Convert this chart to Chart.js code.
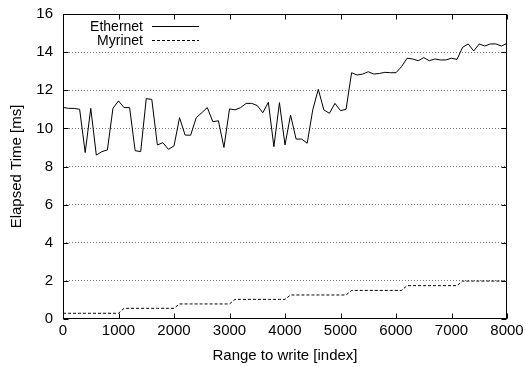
<!DOCTYPE html>
<html>
<head>
<meta charset="utf-8">
<script src="https://cdn.jsdelivr.net/npm/chart.js@4"></script>
<style>
  html, body { margin: 0; padding: 0; background: #fff; }
  canvas { display: block; }
</style>
</head>
<body>
<canvas id="chart" width="526" height="367"></canvas>
<script>
// Datos
const rangeIndex = [
    0, 100, 200, 300, 400, 500, 600, 700, 800, 900,
    1000, 1100, 1200, 1300, 1400, 1500, 1600, 1700, 1800, 1900,
    2000, 2100, 2200, 2300, 2400, 2500, 2600, 2700, 2800, 2900,
    3000, 3100, 3200, 3300, 3400, 3500, 3600, 3700, 3800, 3900,
    4000, 4100, 4200, 4300, 4400, 4500, 4600, 4700, 4800, 4900,
    5000, 5100, 5200, 5300, 5400, 5500, 5600, 5700, 5800, 5900,
    6000, 6100, 6200, 6300, 6400, 6500, 6600, 6700, 6800, 6900,
    7000, 7100, 7200, 7300, 7400, 7500, 7600, 7700, 7800, 7900,
    8000
];

const ethernetTimes = [
    11.10, 11.05, 11.05, 11.00, 8.73, 11.05, 8.60, 8.78, 8.87, 11.05,
    11.44, 11.09, 11.09, 8.83, 8.78, 11.56, 11.52, 9.13, 9.25, 8.90,
    9.08, 10.56, 9.65, 9.64, 10.56, 10.82, 11.09, 10.35, 10.40, 9.00,
    11.02, 10.97, 11.09, 11.31, 11.31, 11.20, 10.82, 11.37, 9.04, 11.35,
    9.13, 10.70, 9.44, 9.44, 9.22, 10.97, 12.05, 10.97, 10.79, 11.31,
    10.93, 11.00, 12.92, 12.80, 12.85, 12.97, 12.85, 12.88, 12.94, 12.92,
    12.92, 13.24, 13.68, 13.64, 13.55, 13.71, 13.55, 13.64, 13.59, 13.59,
    13.68, 13.62, 14.25, 14.43, 14.06, 14.43, 14.32, 14.43, 14.43, 14.32,
    14.46
];

const myrinetTimes = [
    0.30, 0.30, 0.30, 0.30, 0.30, 0.30, 0.30, 0.30, 0.30, 0.30,
    0.30, 0.56, 0.56, 0.56, 0.56, 0.56, 0.56, 0.56, 0.56, 0.56,
    0.56, 0.79, 0.79, 0.79, 0.79, 0.79, 0.79, 0.79, 0.79, 0.79,
    0.79, 1.03, 1.03, 1.03, 1.03, 1.03, 1.03, 1.03, 1.03, 1.03,
    1.03, 1.26, 1.26, 1.26, 1.26, 1.26, 1.26, 1.26, 1.26, 1.26,
    1.26, 1.26, 1.50, 1.50, 1.50, 1.50, 1.50, 1.50, 1.50, 1.50,
    1.50, 1.50, 1.75, 1.75, 1.75, 1.75, 1.75, 1.75, 1.75, 1.75,
    1.75, 1.75, 1.99, 1.99, 1.99, 1.99, 1.99, 1.99, 1.99, 1.99,
    1.99
];

const seriesNames = ['Ethernet', 'Myrinet'];
const xTicks = [0, 1000, 2000, 3000, 4000, 5000, 6000, 7000, 8000];
const yTicks = [0, 2, 4, 6, 8, 10, 12, 14, 16];

const FAMILY = '"Liberation Sans", Arial, Helvetica, sans-serif';
const FONT = { family: FAMILY, size: 15 };
const LEGEND_FONT = { family: FAMILY, size: 14 };

function toPoints(values) {
    return values.map((v, i) => ({ x: rangeIndex[i], y: v }));
}

// Marco, marcas hacia dentro y leyenda al estilo gnuplot
const gnuplotFrame = {
    id: 'gnuplotFrame',
    afterDatasetsDraw(chart) {
        const { ctx, chartArea: a, scales } = chart;
        ctx.save();
        ctx.strokeStyle = '#000';
        ctx.lineWidth = 1;
        ctx.setLineDash([]);
        const L = Math.round(a.left) + 0.5, R = Math.round(a.right) - 0.5;
        const T = Math.round(a.top) + 0.5, B = Math.round(a.bottom) - 0.5;
        ctx.strokeRect(L, T, R - L, B - T);
        const tl = 5;
        ctx.beginPath();
        xTicks.forEach(v => {
            const px = Math.round(scales.x.getPixelForValue(v)) + 0.5;
            ctx.moveTo(px, B); ctx.lineTo(px, B - tl);
            ctx.moveTo(px, T); ctx.lineTo(px, T + tl);
        });
        yTicks.forEach(v => {
            const py = Math.round(scales.y.getPixelForValue(v)) + 0.5;
            ctx.moveTo(L, py); ctx.lineTo(L + tl, py);
            ctx.moveTo(R, py); ctx.lineTo(R - tl, py);
        });
        ctx.stroke();

        // leyenda: texto a la izquierda, muestra de línea a la derecha
        ctx.font = `${LEGEND_FONT.size}px ${LEGEND_FONT.family}`;
        ctx.fillStyle = '#000';
        ctx.textAlign = 'right';
        ctx.textBaseline = 'middle';
        const rowsY = [26, 40];
        chart.data.datasets.forEach((ds, i) => {
            const y = rowsY[i];
            ctx.fillText(ds.label, 143, y + 1);
            ctx.beginPath();
            ctx.setLineDash(ds.borderDash || []);
            ctx.lineWidth = ds.borderWidth;
            ctx.moveTo(152, Math.round(y) + 0.5);
            ctx.lineTo(199, Math.round(y) + 0.5);
            ctx.stroke();
        });
        ctx.restore();
    }
};

new Chart(document.getElementById('chart'), {
    type: 'line',
    data: {
        datasets: [
            {
                label: seriesNames[0],
                data: toPoints(ethernetTimes),
                borderColor: '#000',
                borderWidth: 1,
                pointRadius: 0,
                tension: 0
            },
            {
                label: seriesNames[1],
                data: toPoints(myrinetTimes),
                borderColor: '#000',
                borderWidth: 1,
                borderDash: [3, 2],
                pointRadius: 0,
                tension: 0
            }
        ]
    },
    options: {
        responsive: false,
        animation: false,
        devicePixelRatio: 1,
        layout: { padding: { top: 14, right: 19, left: 0, bottom: 0 } },
        plugins: {
            legend: { display: false },
            tooltip: { enabled: false }
        },
        scales: {
            x: {
                type: 'linear',
                min: 0,
                max: 8000,
                afterFit: s => { s.height = 48; },
                afterBuildTicks: s => { s.ticks = xTicks.map(v => ({ value: v })); },
                grid: { display: false },
                border: { display: false },
                ticks: { color: '#000', font: FONT, padding: -5, maxRotation: 0, callback: v => String(v) },
                title: {
                    display: true,
                    text: 'Range to write [index]',
                    color: '#000',
                    font: FONT,
                    padding: { top: 0, bottom: 2 }
                }
            },
            y: {
                min: 0,
                max: 16,
                afterFit: s => {
                    s.width = 63;
                    s.paddingTop = 0;
                    s.paddingBottom = 0;
                },
                afterBuildTicks: s => { s.ticks = yTicks.map(v => ({ value: v })); },
                grid: {
                    drawTicks: false,
                    color: ctx => (ctx.tick.value === 0 || ctx.tick.value === 16) ? 'rgba(0,0,0,0)' : '#777',
                    lineWidth: 1
                },
                border: { display: false, dash: [1, 2] },
                ticks: { color: '#000', font: FONT, padding: 10 },
                title: {
                    display: true,
                    text: 'Elapsed Time [ms]',
                    color: '#000',
                    font: FONT,
                    padding: { top: 8, bottom: 0 }
                }
            }
        }
    },
    plugins: [gnuplotFrame]
});
</script>
</body>
</html>
